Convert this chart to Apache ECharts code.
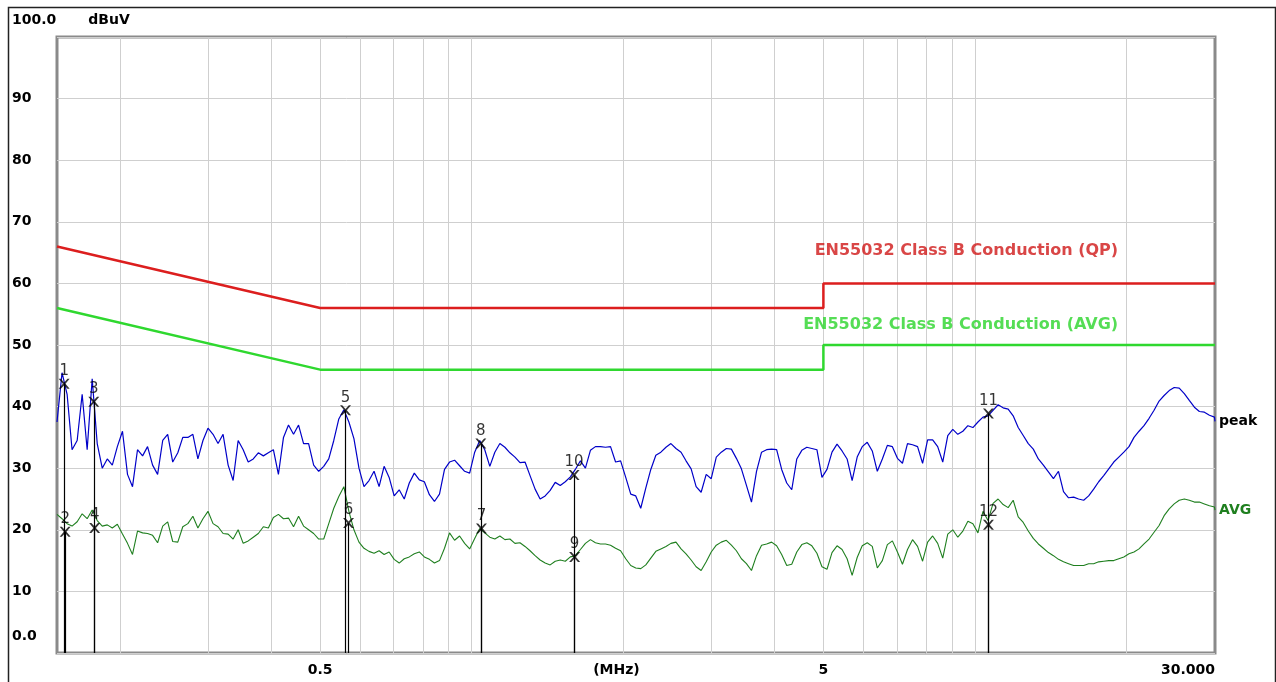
<!DOCTYPE html>
<html><head><meta charset="utf-8">
<script src="https://cdn.jsdelivr.net/npm/echarts@6/dist/echarts.min.js"></script>
<style>html,body{margin:0;padding:0;background:#fff}#c{width:1276px;height:682px}</style>
</head><body><div id="c"></div>
<script>
// Frequency sweep points (MHz)
const freqMHz = [
0.15,0.1535,0.1571,0.1607,0.1645,0.1683,0.1722,0.1762,0.1803,0.1845,
0.1888,0.1932,0.1977,0.2024,0.2071,0.2119,0.2168,0.2219,0.2270,0.2323,
0.2377,0.2433,0.2489,0.2547,0.2607,0.2667,0.2730,0.2793,0.2858,0.2925,
0.2993,0.3063,0.3134,0.3207,0.3282,0.3358,0.3436,0.3516,0.3598,0.3682,
0.3768,0.3856,0.3945,0.4037,0.4131,0.4228,0.4326,0.4427,0.4530,0.4635,
0.4743,0.4854,0.4967,0.5083,0.5201,0.5322,0.5446,0.5573,0.5703,0.5836,
0.5972,0.6111,0.6253,0.6399,0.6548,0.6700,0.6856,0.7016,0.7179,0.7347,
0.7518,0.7693,0.7872,0.8055,0.8243,0.8435,0.8632,0.8833,0.9038,0.9249,
0.9464,0.9685,0.9910,1.0141,1.0377,1.0619,1.0867,1.1120,1.1379,1.1644,
1.1915,1.2192,1.2476,1.2767,1.3064,1.3369,1.3680,1.3999,1.4325,1.4659,
1.5,1.535,1.571,1.607,1.645,1.683,1.722,1.762,1.803,1.845,
1.888,1.932,1.977,2.024,2.071,2.119,2.168,2.219,2.270,2.323,
2.377,2.433,2.489,2.547,2.607,2.667,2.730,2.793,2.858,2.925,
2.993,3.063,3.134,3.207,3.282,3.358,3.436,3.516,3.598,3.682,
3.768,3.856,3.945,4.037,4.131,4.228,4.326,4.427,4.530,4.635,
4.743,4.854,4.967,5.083,5.201,5.322,5.446,5.573,5.703,5.836,
5.972,6.111,6.253,6.399,6.548,6.700,6.856,7.016,7.179,7.347,
7.518,7.693,7.872,8.055,8.243,8.435,8.632,8.833,9.038,9.249,
9.464,9.685,9.910,10.141,10.377,10.619,10.867,11.120,11.379,11.644,
11.915,12.192,12.476,12.767,13.064,13.369,13.680,13.999,14.325,14.659,
15,15.35,15.71,16.07,16.45,16.83,17.22,17.62,18.03,18.45,
18.88,19.32,19.77,20.24,20.71,21.19,21.68,22.19,22.70,23.23,
23.77,24.33,24.89,25.47,26.07,26.67,27.30,27.93,28.58,29.25,
29.93,30
];
// Peak detector trace (dBuV)
const peakDb = [
37.5,45.5,42,33,34.5,42,33,44.5,34,30,
31.5,30.5,33.5,36,29,27,33,32,33.5,30.5,
29,34.5,35.5,31,32.5,35,35,35.5,31.5,34.5,
36.5,35.5,34,35.5,30.5,28,34.5,33,31,31.5,
32.5,32,32.5,33,29,35,37,35.5,37,34,
34,30.5,29.5,30.3,31.5,34.5,38,39.5,37.5,34.8,
30,27,28,29.5,27,30.3,28.5,25.5,26.5,25,
27.6,29.2,28.1,27.8,25.7,24.6,25.8,29.8,31,31.3,
30.4,29.5,29.2,32.6,34.5,33,30.3,32.6,34,33.4,
32.5,31.8,30.9,31,28.8,26.6,25,25.5,26.4,27.7,
27.2,27.8,28.6,29.8,31.2,30,32.9,33.5,33.5,33.4,
33.5,31,31.2,28.5,25.8,25.5,23.5,26.8,29.8,32.1,
32.6,33.4,34,33.2,32.6,31.2,29.9,27,26.1,29,
28.3,31.8,32.6,33.2,33.1,31.6,29.9,27.2,24.5,29.5,
32.6,33,33.1,33,29.8,27.6,26.5,31.5,32.9,33.4,
33.2,33,28.5,29.8,32.6,33.9,32.8,31.5,28,31.8,
33.5,34.2,32.8,29.5,31.5,33.7,33.5,31.6,30.8,34,
33.8,33.5,30.8,34.6,34.6,33.5,31,35.3,36.3,35.5,
36,36.9,36.6,37.5,38.3,38.5,39.4,40.3,39.8,39.6,
38.5,36.6,35.3,34,33.1,31.5,30.5,29.4,28.3,29.5,
26.2,25.2,25.3,25,24.8,25.5,26.6,27.8,28.8,29.9,
31,31.8,32.6,33.5,35,36,36.9,38.1,39.4,40.9,
41.8,42.6,43.1,43,42.1,41,39.9,39.2,39.1,38.6,
38.3,37.6
];
// Average detector trace (dBuV)
const avgDb = [
22.5,21.8,21,20.6,21.3,22.6,21.8,23.2,21.5,20.6,
20.8,20.3,20.9,19.3,17.8,16,19.8,19.5,19.4,19.1,
17.9,20.6,21.3,18.1,18,20.5,21,22.2,20.3,21.8,
23,21,20.5,19.4,19.3,18.5,20,17.8,18.2,18.8,
19.4,20.5,20.3,22,22.5,21.8,21.9,20.5,22.2,20.6,
20,19.4,18.5,18.5,21,23.5,25.4,27,23,20,
18,17,16.5,16.2,16.6,16,16.4,15.2,14.6,15.3,
15.6,16.1,16.4,15.6,15.2,14.6,15,17,19.5,18.3,
19,17.8,16.9,18.6,20.2,19.5,18.8,18.5,19,18.4,
18.5,17.8,17.9,17.3,16.6,15.8,15.1,14.6,14.3,14.9,
15.1,14.9,15.6,15.8,16.8,17.8,18.4,17.9,17.7,17.7,
17.5,17,16.6,15.3,14.2,13.8,13.7,14.3,15.4,16.5,
16.9,17.3,17.8,18,16.9,16.1,15.1,14,13.4,14.8,
16.4,17.5,18,18.3,17.5,16.6,15.3,14.5,13.4,15.8,
17.5,17.7,18,17.4,16,14.2,14.4,16.4,17.6,17.9,
17.4,16.2,14,13.6,16.3,17.4,16.8,15.3,12.6,15.5,
17.4,17.9,17.3,13.8,15,17.6,18.2,16.4,14.4,16.8,
18.4,17.3,14.9,18,19,17.8,15.4,19.3,20,18.8,
19.8,21.4,21,19.5,23,21.5,24.3,25,24.1,23.6,
24.8,22.1,21.2,19.8,18.6,17.7,17,16.3,15.8,15.2,
14.8,14.5,14.2,14.2,14.2,14.5,14.5,14.8,14.9,15,
15,15.3,15.6,16.1,16.4,16.9,17.7,18.5,19.6,20.7,
22.3,23.4,24.2,24.8,25,24.8,24.5,24.5,24.2,23.9,
23.7,23.2
];
// EN55032 Class B limits
const limitFreq = [0.15, 0.5, 5, 5, 30];
const qpLimitDb = [66, 56, 56, 60, 60];
const avLimitDb = [56, 46, 46, 50, 50];
const limitLabelText = ['EN55032 Class B Conduction (QP)', 'EN55032 Class B Conduction (AVG)'];
const limitLabelFreq = [19.3, 19.3];
const limitLabelDb = [65.3, 53.2];
// Markers
const markerNo = ['1','2','3','4','5','6','7','8','9','10','11','12'];
const markerFreq = [0.1550, 0.1557, 0.1775, 0.1782, 0.5616, 0.5694, 1.046, 1.043, 1.602, 1.598, 10.64, 10.64];
const markerDb = [43.7, 19.7, 40.8, 20.3, 39.4, 21.1, 20.2, 34.0, 15.6, 28.9, 38.9, 20.8];
// Axis ticks
const xGridFreqs = [0.2,0.3,0.4,0.5,0.6,0.7,0.8,0.9,1,2,3,4,5,6,7,8,9,10,20];
const xTickValues = [0.5, 1.94, 5, 30];
const xTickText = ['0.5', '(MHz)', '5', '30.000'];
const yTickValues = [0,10,20,30,40,50,60,70,80,90,100];
const yTickText = ['0.0','10','20','30','40','50','60','70','80','90','100.0'];
const yUnit = 'dBuV';

const FONT = "'DejaVu Sans', sans-serif";
const zip = (xs, ys) => xs.map((x, i) => [x, ys[i]]);
const chart = echarts.init(document.getElementById('c'), null, {renderer: 'canvas'});

const option = {
  animation: false,
  backgroundColor: '#fff',
  graphic: [{
    type: 'rect', left: 6, top: 5, silent: true,
    shape: {width: 1267, height: 690},
    style: {fill: 'none', stroke: '#222', lineWidth: 1.5}
  }],
  grid: {left: 57, right: 61, top: 37, bottom: 29, show: true,
         borderColor: '#8a8a8a', borderWidth: 3, backgroundColor: '#fff'},
  xAxis: {
    type: 'log', logBase: 10, min: 0.15, max: 30,
    axisLine: {show: false},
    axisTick: {show: false, customValues: xGridFreqs},
    splitLine: {show: true, lineStyle: {color: '#cfcfcf', width: 1}},
    axisLabel: {
      customValues: xTickValues,
      formatter: v => { const i = xTickValues.findIndex(t => Math.abs(t - v) / t < 1e-3); return i >= 0 ? xTickText[i] : ''; },
      fontFamily: FONT, fontWeight: 'bold', fontSize: 14, color: '#000', margin: 10,
      alignMaxLabel: 'right'
    }
  },
  yAxis: {
    type: 'value', min: 0, max: 100, interval: 10,
    axisLine: {show: false}, axisTick: {show: false},
    splitLine: {show: true, lineStyle: {color: '#cfcfcf', width: 1}},
    axisLabel: {
      align: 'left', margin: 45, color: '#000',
      fontFamily: FONT, fontWeight: 'bold', fontSize: 14,
      formatter: v => {
        const i = yTickValues.indexOf(v);
        const t = i >= 0 ? yTickText[i] : String(v);
        if (v === 100) return '{s|' + t + '}{u|' + yUnit + '}';
        if (v === 0) return '{s|' + t + '}';
        return t;
      },
      rich: {
        s: {fontFamily: FONT, fontWeight: 'bold', fontSize: 14, color: '#000', padding: [0, 0, 34, 0]},
        u: {fontFamily: FONT, fontWeight: 'bold', fontSize: 14, color: '#000', padding: [0, 0, 34, 32]}
      }
    }
  },
  series: [
    {name: 'QP limit', type: 'line', data: zip(limitFreq, qpLimitDb), symbol: 'none', silent: true,
     lineStyle: {color: '#dc1e1e', width: 2.5}, itemStyle: {color: '#dc1e1e'}, z: 2},
    {name: 'AVG limit', type: 'line', data: zip(limitFreq, avLimitDb), symbol: 'none', silent: true,
     lineStyle: {color: '#2fd82f', width: 2.5}, itemStyle: {color: '#2fd82f'}, z: 2},
    {name: 'peak', type: 'line', data: zip(freqMHz, peakDb), symbol: 'none', silent: true,
     lineStyle: {color: '#0000c8', width: 1.2}, itemStyle: {color: '#0000c8'}, z: 3,
     endLabel: {show: true, formatter: 'peak', color: '#000', fontFamily: FONT, fontWeight: 'bold', fontSize: 14, distance: 4}},
    {name: 'AVG', type: 'line', data: zip(freqMHz, avgDb), symbol: 'none', silent: true,
     lineStyle: {color: '#1f7f1f', width: 1.1}, itemStyle: {color: '#1f7f1f'}, z: 3,
     endLabel: {show: true, formatter: 'AVG', color: '#1f7f1f', fontFamily: FONT, fontWeight: 'bold', fontSize: 14, distance: 4}},
    {name: 'markers', type: 'scatter', data: zip(markerFreq, markerDb), silent: true, z: 5,
     symbol: 'path://M0,0L2,0L5,3.6L8,0L10,0L6.2,5L10,10L8,10L5,6.4L2,10L0,10L3.8,5Z',
     symbolSize: [11, 10], itemStyle: {color: '#000'},
     label: {show: true, position: 'top', distance: 0, formatter: p => markerNo[p.dataIndex],
             fontFamily: FONT, fontSize: 15, color: '#000'},
     markLine: {silent: true, symbol: ['none', 'none'], animation: false,
       label: {show: false}, lineStyle: {color: '#000', width: 1.2, type: 'solid'},
       emphasis: {disabled: true},
       data: markerFreq.map((f, i) => [{coord: [f, 0]}, {coord: [f, markerDb[i]]}])}
    },
    {name: 'limit labels', type: 'scatter', data: zip(limitLabelFreq, limitLabelDb).map((v, i) => ({
        value: v, label: {color: i === 0 ? '#d01818' : '#2ad42a'}})),
     symbolSize: 1, itemStyle: {color: 'rgba(0,0,0,0)'}, silent: true, z: 4,
     label: {show: true, position: 'left', distance: 0, formatter: p => limitLabelText[p.dataIndex],
             fontFamily: FONT, fontWeight: 'bold', fontSize: 16}}
  ]
};
chart.setOption(option);
</script></body></html>
